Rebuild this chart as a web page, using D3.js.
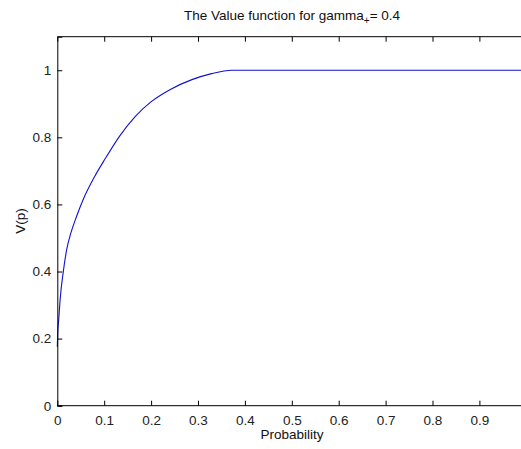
<!DOCTYPE html>
<html>
<head>
<meta charset="utf-8">
<script src="https://cdn.jsdelivr.net/npm/d3@7"></script>
<style>
  body { margin: 0; background: #fff; }
  svg { display: block; font-family: "Liberation Sans", Arial, sans-serif; }
</style>
</head>
<body>
<svg id="chart" width="521" height="449"></svg>
<script>
// values
const probs  = [0, 0.001, 0.003, 0.006, 0.013, 0.02, 0.029, 0.041, 0.055, 0.08, 0.102, 0.134, 0.166, 0.201, 0.240, 0.287, 0.329, 0.372, 1];
const values = [0.176, 0.22, 0.256, 0.316, 0.402, 0.465, 0.515, 0.564, 0.614, 0.684, 0.736, 0.806, 0.862, 0.907, 0.942, 0.972, 0.990, 1, 1];
// the tick at 1 falls just past the right edge of the window
const xTicks = [0, 0.1, 0.2, 0.3, 0.4, 0.5, 0.6, 0.7, 0.8, 0.9];
const yTicks = [0, 0.2, 0.4, 0.6, 0.8, 1];

const svg = d3.select('#chart');
const L = 57.3, R = 526.3, T = 36.7, B = 405.7;
const FS = 13.5;

const x = d3.scaleLinear().domain([0, 1]).range([L, R]);
const y = d3.scaleLinear().domain([0, 1.1]).range([B, T]);

svg.append('rect').attr('width', 521).attr('height', 449).attr('fill', '#fff');

// curve
const line = d3.line()
  .x((d, i) => x(probs[i]))
  .y(d => y(d))
  .curve(d3.curveMonotoneX);

svg.append('path')
  .datum(values)
  .attr('d', line)
  .attr('fill', 'none')
  .attr('stroke', '#1010d0')
  .attr('stroke-width', 1.1);

// axes, matlab style: ticks pointing in, on both sides
const fmt = d => d === 0 ? '0' : d === 1 ? '1' : d3.format('.1f')(d);

const xb = svg.append('g').attr('transform', `translate(0,${B})`)
  .call(d3.axisBottom(x).tickValues(xTicks).tickSize(-5).tickPadding(10).tickFormat(fmt));
const xt = svg.append('g').attr('transform', `translate(0,${T})`)
  .call(d3.axisTop(x).tickValues(xTicks).tickSize(-5).tickFormat(''));
const yl = svg.append('g').attr('transform', `translate(${L},0)`)
  .call(d3.axisLeft(y).tickValues(yTicks).tickSize(-5).tickPadding(6).tickFormat(fmt));
const yr = svg.append('g').attr('transform', `translate(${R},0)`)
  .call(d3.axisRight(y).tickValues(yTicks).tickSize(-5).tickFormat(''));

[xb, xt, yl, yr].forEach(g => {
  g.select('.domain').attr('stroke', '#000').attr('stroke-width', 1);
  g.selectAll('.tick line').attr('stroke', '#000');
  g.selectAll('.tick text').attr('fill', '#222').attr('font-size', FS)
    .attr('font-family', '"Liberation Sans", Arial, sans-serif');
});
xb.select('.domain').attr('d', `M${L},0H${R}`);
xt.select('.domain').attr('d', `M${L},0H${R}`);

// title
const title = svg.append('text')
  .attr('x', 292).attr('y', 20)
  .attr('text-anchor', 'middle')
  .attr('font-size', FS).attr('fill', '#111');
title.append('tspan').text('The Value function for gamma');
title.append('tspan').attr('font-size', 10).attr('dy', 4).text('+');
title.append('tspan').attr('dy', -4).text('= 0.4');

// axis labels
svg.append('text')
  .attr('x', 292).attr('y', 439)
  .attr('text-anchor', 'middle')
  .attr('font-size', FS).attr('fill', '#111')
  .text('Probability');

svg.append('text')
  .attr('transform', 'translate(25,221) rotate(-90)')
  .attr('text-anchor', 'middle')
  .attr('font-size', FS).attr('fill', '#111')
  .text('V(p)');
</script>
</body>
</html>
